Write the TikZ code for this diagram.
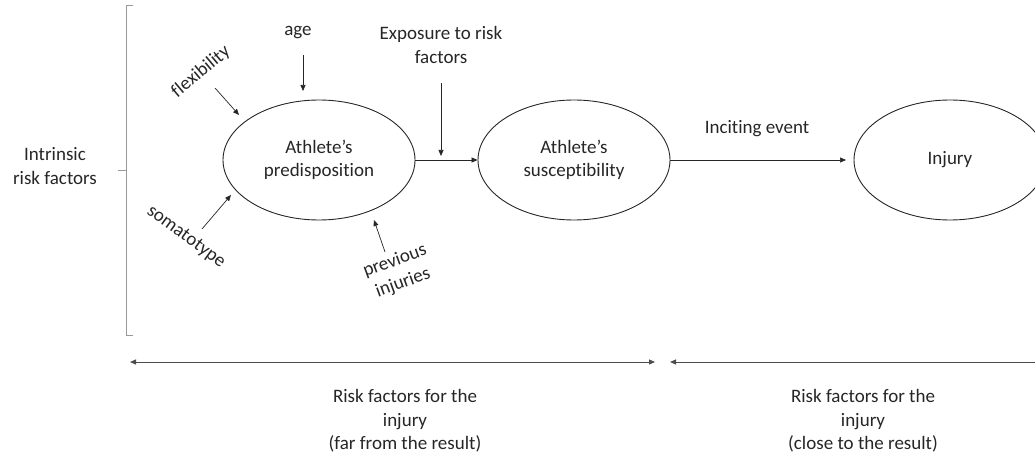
\documentclass[tikz,border=0pt]{standalone}
\usepackage{fontspec}
\setmainfont{Carlito}[Ligatures={NoCommon,NoContextual},RawFeature={-liga;-clig;-calt;-dlig;-rlig}]
\usetikzlibrary{arrows.meta,shapes.geometric}
\begin{document}
\begin{tikzpicture}[x=1pt,y=-1pt,
  txt/.style={text=black!85,font=\fontsize{19}{23.5}\selectfont,align=center,inner sep=0pt},
  oval/.style={draw=black!85,line width=0.9pt,ellipse,minimum width=192pt,minimum height=120pt,inner sep=0pt,txt},
  arr/.style={draw=black!85,line width=0.7pt,-{Triangle[length=6pt,width=5pt]}},
  darr/.style={draw=black!70,line width=1pt,{Triangle[length=6pt,width=5pt]}-{Triangle[length=6pt,width=5pt]}},
  larr/.style={draw=black!70,line width=1pt,{Triangle[length=6pt,width=5pt]}-},
  brk/.style={draw=black!40,line width=0.9pt}]
\useasboundingbox (0,0) rectangle (1035,457);
% ellipses
\node[oval] (pre) at (319,160) {Athlete’s\\predisposition};
\node[oval] (sus) at (574,160) {Athlete’s\\susceptibility};
\node[oval] (inj) at (950,160) {Injury};
% bracket
\coordinate (bt) at (133,5);
\coordinate (bb) at (133,335);
\coordinate (bm) at (118,170);
\draw[brk] (bt) -- (126,5) -- (126,335) -- (bb);
\draw[brk] (bm) -- (126,170);
\node[txt] (intr) at (55,166) {Intrinsic\\risk factors};
% labels
\node[txt] (age) at (298,33) {age};
\coordinate (age1) at (303,55);
\coordinate (age2) at (303,91);
\draw[arr] (age1) -- (age2);
\node[txt,rotate=40] (flex) at (201,72) {flexibility};
\coordinate (flex1) at (215,88);
\coordinate (flex2) at (239,115);
\draw[arr] (flex1) -- (flex2);
\node[txt,rotate=-36] (soma) at (186,237) {somatotype};
\coordinate (soma1) at (202,229);
\coordinate (soma2) at (231,195);
\draw[arr] (soma1) -- (soma2);
\node[txt,rotate=20] (prev) at (399,272) {previous\\injuries};
\coordinate (prev1) at (385,252);
\coordinate (prev2) at (374,220);
\draw[arr] (prev1) -- (prev2);
\node[txt] (expo) at (441,45) {Exposure to risk\\factors};
\coordinate (expo1) at (441,83);
\coordinate (expo2) at (441,156);
\draw[arr] (expo1) -- (expo2);
% main chain
\draw[arr] (pre.east) -- (sus.west);
\coordinate (inc2) at (846,160);
\draw[arr] (sus.east) -- (inc2);
\node[txt] (inc) at (757,129) {Inciting event};
% bottom arrows
\coordinate (l1) at (130,362);
\coordinate (l2) at (655,362);
\coordinate (r1) at (670,362);
\coordinate (r2) at (1040,362);
\draw[darr] (l1) -- (l2);
\draw[larr] (r1) -- (r2);
\node[txt] (far) at (405,421) {Risk factors for the\\injury\\(far from the result)};
\node[txt] (close) at (863,421) {Risk factors for the\\injury\\(close to the result)};
\end{tikzpicture}
\end{document}
